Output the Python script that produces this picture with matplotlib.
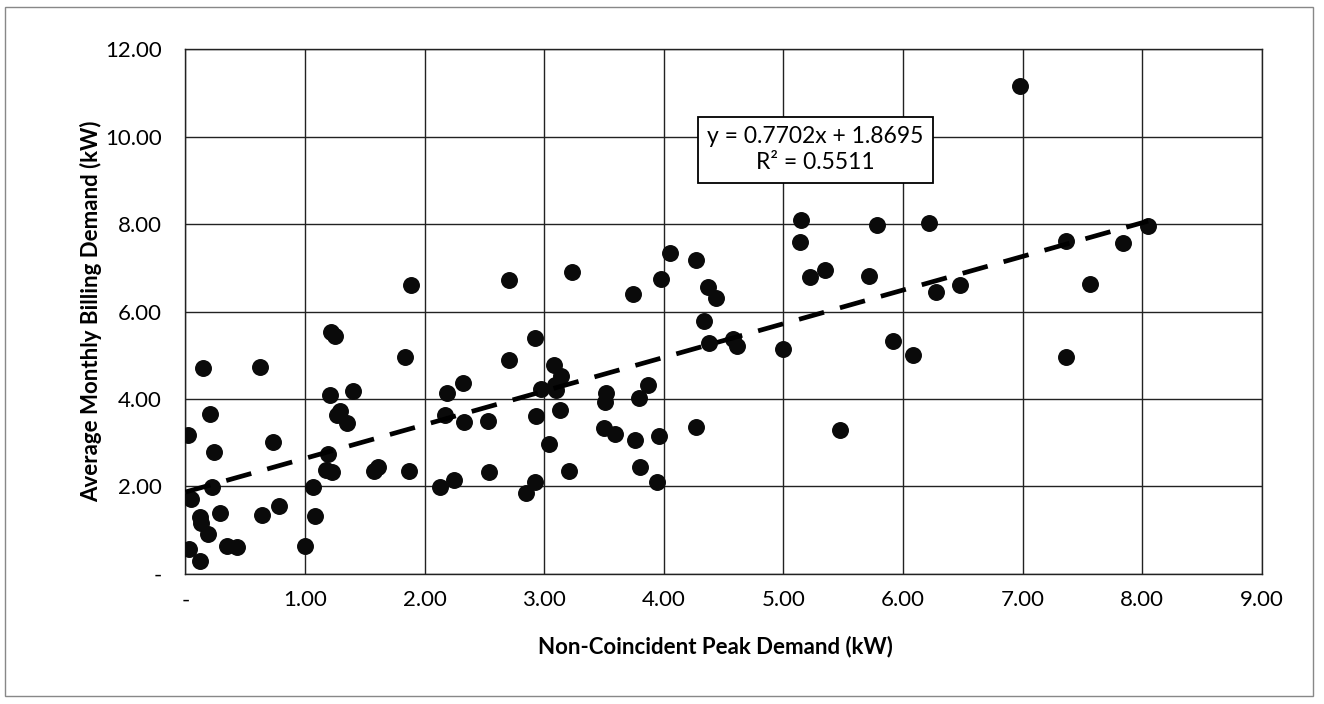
import matplotlib
matplotlib.use("Agg")
import matplotlib.pyplot as plt
from matplotlib.patches import Rectangle

peak_kw = [0.02, 0.05, 0.03, 0.12, 0.12, 0.13, 0.15, 0.19, 0.21, 0.22, 0.24, 0.29, 0.35, 0.43,
           0.62, 0.64, 0.73, 0.78, 1.00, 1.08, 1.07,
           1.19, 1.18, 1.23, 1.21, 1.40, 1.29, 1.27, 1.35, 1.22, 1.25, 1.58, 1.61, 1.87, 1.84, 1.89,
           2.13, 2.25, 2.17, 2.19, 2.32, 2.33, 2.53, 2.54, 2.71, 2.71, 2.85, 2.92, 2.92, 2.93, 2.97,
           3.04, 3.08, 3.14, 3.09, 3.10, 3.13, 3.21, 3.23, 3.50, 3.59, 3.52, 3.51, 3.74, 3.76, 3.79,
           3.87, 3.80, 3.94, 3.96, 3.98,
           4.05, 4.27, 4.27, 4.37, 4.44, 4.34, 4.38, 4.58, 4.61, 5.00,
           5.15, 5.14, 5.22, 5.35, 5.47, 5.78, 5.72, 5.92,
           6.08, 6.22, 6.28, 6.48, 6.98, 7.36, 7.36, 7.56, 7.84, 8.05]
billing_kw = [3.18, 1.72, 0.57, 0.29, 1.29, 1.16, 4.70, 0.90, 3.65, 1.99, 2.78, 1.40, 0.64, 0.61,
              4.74, 1.35, 3.01, 1.55, 0.64, 1.33, 1.99,
              2.73, 2.38, 2.32, 4.10, 4.18, 3.72, 3.63, 3.45, 5.53, 5.45, 2.36, 2.45, 2.34, 4.95, 6.60,
              1.98, 2.14, 3.64, 4.13, 4.37, 3.47, 3.49, 2.33, 4.88, 6.72, 1.85, 2.11, 5.40, 3.62, 4.22,
              2.96, 4.78, 4.53, 4.32, 4.20, 3.75, 2.35, 6.90, 3.34, 3.20, 4.14, 3.93, 6.41, 3.07, 4.02,
              4.33, 2.45, 2.09, 3.16, 6.75,
              7.35, 7.19, 3.35, 6.57, 6.31, 5.79, 5.29, 5.37, 5.22, 5.15,
              8.10, 7.59, 6.79, 6.96, 3.28, 7.98, 6.81, 5.33,
              5.01, 8.02, 6.44, 6.60, 11.15, 4.97, 7.62, 6.63, 7.57, 7.95]

slope = 0.7702
intercept = 1.8695
r_squared = 0.5511

x_ticks = [0, 1, 2, 3, 4, 5, 6, 7, 8, 9]
x_tick_labels = ["-", "1.00", "2.00", "3.00", "4.00", "5.00", "6.00", "7.00", "8.00", "9.00"]
y_ticks = [0, 2, 4, 6, 8, 10, 12]
y_tick_labels = ["-", "2.00", "4.00", "6.00", "8.00", "10.00", "12.00"]

plt.rcParams['font.family'] = ['Lato', 'DejaVu Sans']

fig = plt.figure(figsize=(13.24, 7.04), dpi=100)
ax = fig.add_axes([0.140, 0.185, 0.813, 0.745])

ax.set_xlim(0, 9)
ax.set_ylim(0, 12)
ax.set_xticks(x_ticks)
ax.set_xticklabels(x_tick_labels)
ax.set_yticks(y_ticks)
ax.set_yticklabels(y_tick_labels)
ax.tick_params(axis='both', length=0, labelsize=16)
ax.tick_params(axis='x', pad=12)
ax.tick_params(axis='y', pad=17)
ax.grid(True, color='#222222', linewidth=1.0)
ax.set_axisbelow(True)
for sp in ax.spines.values():
    sp.set_color('#222222')
    sp.set_linewidth(1.0)

ax.scatter(peak_kw, billing_kw, s=125, color='#0a0a0a', zorder=3)

x0, x1 = 0.0, max(peak_kw)
ax.plot([x0, x1], [slope * x0 + intercept, slope * x1 + intercept],
        linestyle=(0, (5.5, 3.5)), color='black', linewidth=3.4, zorder=4)

ax.text(5.27, 9.7, "y = {:.4f}x + {:.4f}\nR² = {:.4f}".format(slope, intercept, r_squared),
        ha='center', va='center', fontsize=16.5, linespacing=1.3,
        bbox=dict(boxstyle='square,pad=0.4', facecolor='white', edgecolor='black', linewidth=1.3),
        zorder=5)

ax.set_xlabel("Non-Coincident Peak Demand (kW)", fontsize=16, fontweight='bold')
ax.set_ylabel("Average Monthly Billing Demand (kW)", fontsize=16, fontweight='bold')
ax.xaxis.set_label_coords(0.4926, -0.139)
ax.yaxis.set_label_coords(-0.088, 0.5)
ax.xaxis.label.set_va('center')
ax.yaxis.label.set_va('center')

fig.patches.append(Rectangle((0.004, 0.012), 0.988, 0.978, transform=fig.transFigure,
                             fill=False, edgecolor='#888888', linewidth=1.0))

fig.savefig("out.png", dpi=100, facecolor='white')
